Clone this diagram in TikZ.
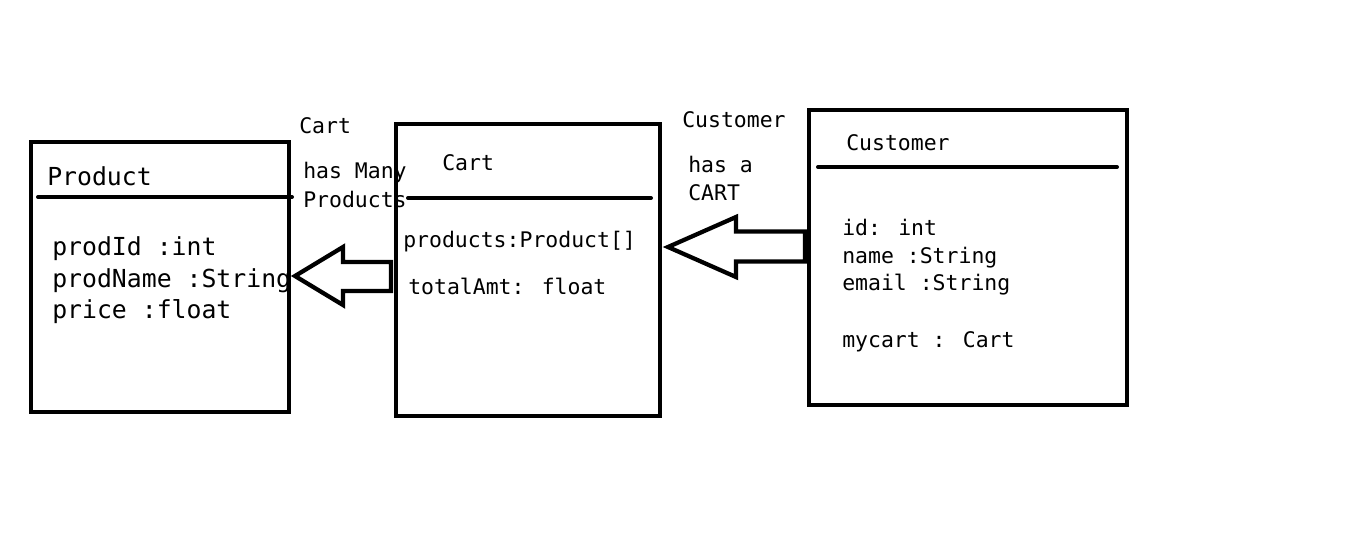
\documentclass[tikz,border=0pt]{standalone}
\usepackage{fontspec}
\setmainfont{DejaVu Sans Mono}

\begin{document}
\begin{tikzpicture}[x=0.75pt,y=-0.75pt,
  classbox/.style={draw,line width=3.4pt,inner sep=0pt},
  divider/.style={line width=3pt,line cap=round},
  txt/.style={anchor=base west,inner sep=0pt,font=\fontsize{16.1}{19}\selectfont},
  bigtxt/.style={txt,font=\fontsize{18.6}{22}\selectfont},
  fatarrow/.style={draw,line width=3.2pt,line join=miter}]

\useasboundingbox (0,0) rectangle (1349,544);

\node[classbox,minimum width=193.5pt,minimum height=202.5pt] (product) at (160,277) {};
\node[classbox,minimum width=198pt,minimum height=219pt] (cart) at (528,270) {};
\node[classbox,minimum width=238.5pt,minimum height=221.25pt] (customer) at (968,257.5) {};

\draw[divider] (38,197) -- (292,197);
\draw[divider] (408,198) -- (651,198);
\draw[divider] (818,167) -- (1117,167);

% Product
\node[bigtxt] (ptitle) at (47,185) {Product};
\node[bigtxt] (pid) at (52,255) {prodId :int};
\node[bigtxt] (pname) at (52,287) {prodName :String};
\node[bigtxt] (pprice) at (52,318) {price :float};

% Cart
\node[txt] (ctitle) at (442,170) {Cart};
\node[txt] (cprods) at (403,247) {products:Product[]};
\node[txt] (ctotal) at (408,294) {totalAmt: float};

% Customer
\node[txt] (ktitle) at (846,150) {Customer};
\node[txt] (kid) at (842,235) {id: int};
\node[txt] (kname) at (842,263) {name :String};
\node[txt] (kemail) at (842,290) {email :String};
\node[txt] (kcart) at (842,347) {mycart : Cart};

% relations
\node[txt] (rel1a) at (299,133) {Cart};
\node[txt] (rel1b) at (303,178) {has Many};
\node[txt] (rel1c) at (303,207) {Products};

\node[txt] (rel2a) at (682,127) {Customer};
\node[txt] (rel2b) at (688,172) {has a};
\node[txt] (rel2c) at (688,200) {CART};

\coordinate (tipA) at (295,276);
\draw[fatarrow] (tipA) -- ++(48,-29) -- ++(0,15) -- ++(48,0) -- ++(0,29) -- ++(-48,0) -- ++(0,14) -- cycle;

\coordinate (tipB) at (668,247);
\draw[fatarrow] (tipB) -- ++(68,-30) -- ++(0,14.5) -- ++(69,0) -- ++(0,30) -- ++(-69,0) -- ++(0,15.5) -- cycle;

\end{tikzpicture}
\end{document}
